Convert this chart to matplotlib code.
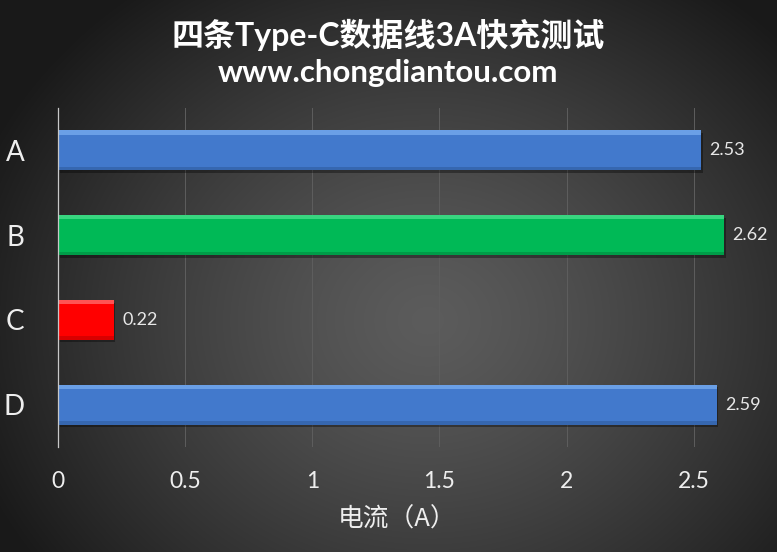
import numpy as np
import matplotlib
matplotlib.use("Agg")
import matplotlib.pyplot as plt
import matplotlib.patheffects as pe

categories = ["A", "B", "C", "D"]
values = [2.53, 2.62, 0.22, 2.59]
bar_colors = ["#4279cc", "#00b956", "#ff0000", "#4279cc"]
hi_colors = ["#78adf0", "#4be08f", "#ff7070", "#78adf0"]
lo_colors = ["#2f5c9e", "#008a40", "#c00000", "#2f5c9e"]
xticks = [0, 0.5, 1, 1.5, 2, 2.5]
xtick_labels = ["0", "0.5", "1", "1.5", "2", "2.5"]
title = "四条Type-C数据线3A快充测试"
subtitle = "www.chongdiantou.com"
xlabel = "电流（A）"

plt.rcParams['font.family'] = ['Lato', 'Noto Sans CJK SC', 'DejaVu Sans']

W, H = 777, 552
fig = plt.figure(figsize=(W / 100, H / 100), dpi=100)

# radial gradient background
bg = fig.add_axes([0, 0, 1, 1], zorder=-10)
yy, xx = np.mgrid[0:H, 0:W]
cx, cy = 0.55 * W, 0.58 * H
r = np.sqrt(((xx - cx) / (0.62 * W)) ** 2 + ((yy - cy) / (0.75 * H)) ** 2)
r = np.clip(r, 0, 1)
c_in, c_out = 0.36, 0.10
g = c_in + (c_out - c_in) * r ** 1.3
img = np.dstack([g, g, g])
bg.imshow(img, aspect='auto', extent=[0, 1, 0, 1], origin='upper')
bg.axis('off')

ax = fig.add_axes([58 / W, 1 - 447 / H, (770 - 58) / W, (447 - 108) / H])
ax.set_facecolor('none')
y = np.arange(len(categories))
bh = 0.47

# shadow
ax.barh(y + 0.03, values, height=bh, left=0.006, color='#000000', alpha=0.35, zorder=2)
ax.barh(y, values, height=bh, color=bar_colors, zorder=3)
ax.barh(y - bh / 2 + 0.025, values, height=0.05, color=hi_colors, zorder=4, alpha=0.75)
ax.barh(y + bh / 2 - 0.02, values, height=0.04, color=lo_colors, zorder=4, alpha=0.6)

for yi, v in zip(y, values):
    ax.annotate(f"{v:.2f}", xy=(v, yi), xytext=(6, 0), textcoords='offset points',
                va='center', ha='left', color='#e8e8e8', fontsize=13)

ax.set_ylim(len(categories) - 0.5, -0.5)
ax.set_xlim(0, 2.8)
ax.set_yticks(y)
ax.set_yticklabels(categories, fontsize=20, color='#eeeeee')
ax.set_xticks(xticks)
ax.set_xticklabels(xtick_labels, fontsize=16.5, color='#eeeeee')
ax.tick_params(axis='y', length=0, pad=24)
ax.tick_params(axis='x', length=0, pad=17)
ax.grid(axis='x', color='#5e5e5e', linewidth=0.7, zorder=0)
ax.set_axisbelow(True)
for s in ['top', 'right', 'bottom']:
    ax.spines[s].set_visible(False)
ax.spines['left'].set_color('#c8c8c8')
ax.spines['left'].set_linewidth(0.9)
ax.spines['left'].set_zorder(5)

fig.text(388 / W, 1 - 35 / H, title, ha='center', va='center', fontsize=23,
         fontweight='bold', color='white', family=['Lato', 'Noto Sans CJK SC'])
fig.text(388 / W, 1 - 73 / H, subtitle, ha='center', va='center', fontsize=22.5,
         fontweight='bold', color='white')
fig.text(397 / W, 1 - 520 / H, xlabel, ha='center', va='center', fontsize=18.5,
         color='#eeeeee', family=['Noto Sans CJK SC', 'DejaVu Sans'])

fig.savefig("out.png", dpi=100)
